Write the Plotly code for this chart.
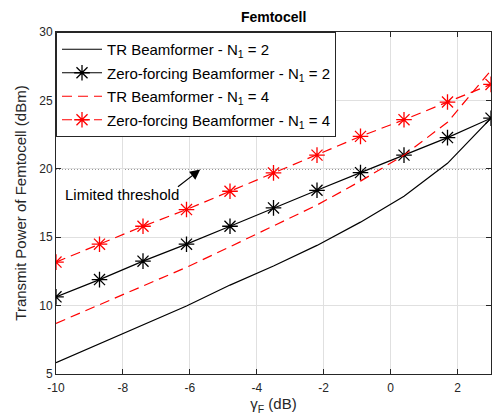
import plotly.graph_objects as go

# SINR target of the femtocell user (dB)
gamma_f = [-10, -8.7, -7.4, -6.1, -4.8, -3.5, -2.2, -0.9, 0.4, 1.7, 3.0]

# Required transmit power of the femtocell (dBm)
tr_n2 = [5.83, 7.2, 8.6, 9.97, 11.5, 12.9, 14.4, 16.1, 18.0, 20.4, 23.7]
zf_n2 = [10.64, 11.9, 13.25, 14.49, 15.8, 17.14, 18.43, 19.72, 21.0, 22.28, 23.7]
tr_n4 = [8.7, 10.06, 11.43, 12.8, 14.3, 15.8, 17.35, 19.1, 21.0, 23.4, 27.2]
zf_n4 = [13.18, 14.49, 15.8, 17.02, 18.36, 19.7, 21.0, 22.37, 23.59, 24.88, 26.17]

power_limit = 20
x_ticks = [-10, -8, -6, -4, -2, 0, 2]
x_tick_text = ["-10", "-8", "-6", "-4", "-2", "0", "2"]
y_ticks = [5, 10, 15, 20, 25, 30]

FONT = "Liberation Sans, Arial, sans-serif"
RED = "#ff0000"
DASH = "10px,6px"

fig = go.Figure()

fig.add_trace(go.Scatter(
    x=gamma_f, y=tr_n2, mode="lines", legendgroup="a",
    name="TR Beamformer - N<sub>1</sub> = 2",
    line=dict(color="black", width=1.2)))
fig.add_trace(go.Scatter(
    x=gamma_f, y=zf_n2, mode="lines+markers", legendgroup="b",
    name="Zero-forcing Beamformer - N<sub>1</sub> = 2",
    line=dict(color="black", width=1.2),
    marker=dict(symbol="asterisk-open", size=13, color="black",
                line=dict(color="black", width=1.3))))
fig.add_trace(go.Scatter(
    x=gamma_f, y=tr_n4, mode="lines", legendgroup="c",
    name="TR Beamformer - N<sub>1</sub> = 4",
    line=dict(color=RED, width=1.2, dash=DASH)))
fig.add_trace(go.Scatter(
    x=gamma_f, y=zf_n4, mode="lines+markers", legendgroup="d",
    name="Zero-forcing Beamformer - N<sub>1</sub> = 4",
    line=dict(color=RED, width=1.2, dash=DASH),
    marker=dict(symbol="asterisk-open", size=13, color=RED,
                line=dict(color=RED, width=1.3))))

# Power limit as a dotted horizontal line
fig.add_shape(type="line", xref="x", yref="y",
              x0=gamma_f[0], x1=gamma_f[-1], y0=power_limit, y1=power_limit,
              line=dict(color="#333333", width=1.2, dash="1px,2px"), layer="below")

# Arrow pointing at the limit line, with its label beneath
fig.add_annotation(x=-5.69, y=power_limit - 0.05, ax=-6.4, ay=18.6,
                   xref="x", yref="y", axref="x", ayref="y",
                   text="", showarrow=True, arrowhead=2, arrowsize=1.7,
                   arrowwidth=1.2, arrowcolor="black")
fig.add_annotation(x=-9.78, y=18.15, xref="x", yref="y", text="Limited threshold",
                   showarrow=False, xanchor="left", yanchor="middle",
                   font=dict(family=FONT, size=15, color="black"))

axis_common = dict(
    showgrid=True, gridcolor="#e0e0e0", gridwidth=1,
    showline=True, linecolor="#262626", linewidth=1, mirror="ticks",
    ticks="inside", ticklen=5, tickcolor="#262626", tickwidth=1,
    zeroline=False, tickfont=dict(family=FONT, size=12, color="#262626"),
)

fig.update_xaxes(range=[-10, 3], tickvals=x_ticks, ticktext=x_tick_text,
                 ticklabelstandoff=3,
                 title=dict(text="γ<sub>F</sub> (dB)", standoff=4,
                            font=dict(family=FONT, size=15, color="#262626")),
                 **axis_common)
fig.update_yaxes(range=[5, 30], tickvals=y_ticks,
                 title=dict(text="Transmit Power of Femtocell (dBm)", standoff=8,
                            font=dict(family=FONT, size=15, color="#262626")),
                 **axis_common)

fig.update_layout(
    width=493, height=417,
    margin=dict(l=56, r=2, t=32, b=43),
    paper_bgcolor="white", plot_bgcolor="white",
    title=dict(text="<b>Femtocell</b>", x=0.555, xanchor="center",
               y=0.96, yanchor="middle",
               font=dict(family=FONT, size=14, color="black")),
    legend=dict(x=0, y=1, xanchor="left", yanchor="top",
                bgcolor="white", bordercolor="#262626", borderwidth=1,
                font=dict(family=FONT, size=15, color="black"),
                tracegroupgap=1, itemwidth=40, traceorder="grouped"),
    showlegend=True,
)

fig.write_html("out.html")
